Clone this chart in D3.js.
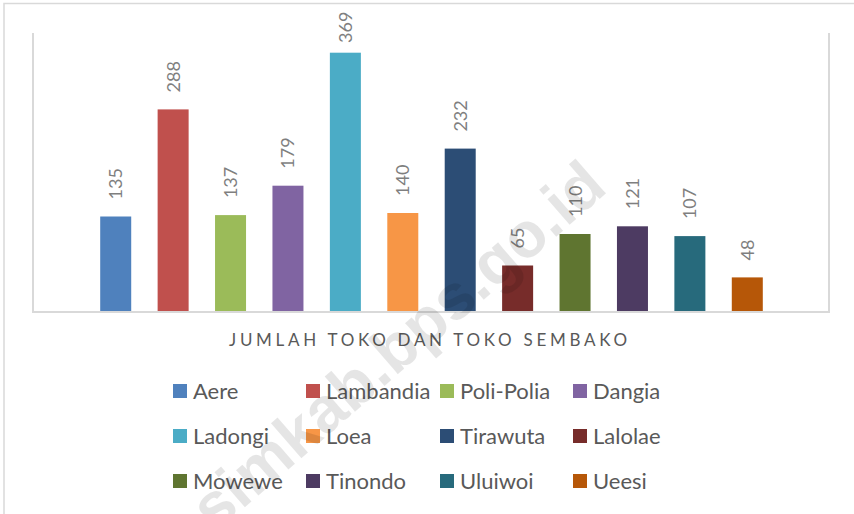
<!DOCTYPE html>
<html>
<head>
<meta charset="utf-8">
<script src="https://cdn.jsdelivr.net/npm/d3@7"></script>
<style>
  html, body { margin: 0; padding: 0; background: #fff; }
  svg { display: block; }
</style>
</head>
<body>
<script>
const [width, height] = [854, 514]

const categories = ["Aere", "Lambandia", "Poli-Polia", "Dangia", "Ladongi", "Loea",
  "Tirawuta", "Lalolae", "Mowewe", "Tinondo", "Uluiwoi", "Ueesi"]
const values = [135, 288, 137, 179, 369, 140, 232, 65, 110, 121, 107, 48]
const colors = ["#4f81bd", "#c0504d", "#9bbb59", "#8064a2", "#4bacc6", "#f79646",
  "#2c4d75", "#772c2a", "#5f7530", "#4d3b62", "#276a7c", "#b65708"]
const axisTitle = "JUMLAH TOKO DAN TOKO SEMBAKO"
const watermark = "simkab.bps.go.id"

const font = "Lato, 'Open Sans', sans-serif"

const svg = d3.select('body')
  .append('svg')
  .attr("width", width)
  .attr("height", height)

// outer chart border (only top/left visible)
svg.append("rect")
  .attr("x", 4).attr("y", 3.5)
  .attr("width", 900).attr("height", 600)
  .attr("fill", "none")
  .attr("stroke", "#d9d9d9")
  .attr("stroke-width", 1.5)

// scales
const x = d3.scaleBand()
  .domain(categories)
  .range([87, 776])
  .paddingInner(0.46)
  .paddingOuter(0.23)

const y = d3.scaleLinear()
  .domain([0, 400])
  .range([311, 31])

// plot frame: left, right, bottom
const frame = svg.append("g")
  .attr("stroke", "#d9d9d9")
  .attr("stroke-width", 2)
  .attr("fill", "none")
frame.append("line").attr("x1", 33).attr("x2", 33).attr("y1", 33).attr("y2", 312)
frame.append("line").attr("x1", 829).attr("x2", 829).attr("y1", 33).attr("y2", 312)
frame.append("line").attr("x1", 32).attr("x2", 830).attr("y1", 312).attr("y2", 312)

// bars
svg.selectAll("rect.bar")
  .data(values)
  .enter()
  .append("rect")
    .attr("class", "bar")
    .attr("x", (d, i) => x(categories[i]))
    .attr("y", d => y(d))
    .attr("width", x.bandwidth())
    .attr("height", d => y(0) - y(d))
    .attr("fill", (d, i) => colors[i])

// value labels, rotated
svg.selectAll("text.val")
  .data(values)
  .enter()
  .append("text")
    .attr("class", "val")
    .text(d => d)
    .attr("transform", (d, i) => {
      const cx = x(categories[i]) + x.bandwidth() / 2 + 6.5
      const ty = Math.max(y(d) - 17, 43)
      return `translate(${cx},${ty}) rotate(-90)`
    })
    .attr("font-family", font)
    .attr("font-size", "18px")
    .attr("fill", "#7f7f7f")

// axis title
const title = svg.append("text")
  .text(axisTitle)
  .attr("x", 229)
  .attr("y", 346)
  .attr("font-family", font)
  .attr("font-size", "17px")
  .attr("fill", "#595959")
const tl = title.node().getComputedTextLength()
title.attr("letter-spacing", (398 - tl) / (axisTitle.length - 1))

// legend
const colX = [173, 306, 440, 573]
const rowY = [391, 436, 481]
const legend = svg.selectAll("g.legend")
  .data(categories)
  .enter()
  .append("g")
    .attr("class", "legend")
    .attr("transform", (d, i) => `translate(${colX[i % 4]},${rowY[Math.floor(i / 4)]})`)
legend.append("rect")
  .attr("x", 0).attr("y", -7)
  .attr("width", 14).attr("height", 14)
  .attr("fill", (d, i) => colors[i])
legend.append("text")
  .text(d => d)
  .attr("x", 20)
  .attr("y", 8)
  .attr("font-family", font)
  .attr("font-size", "22px")
  .attr("fill", "#595959")

// watermark
svg.append("text")
  .text(watermark)
  .attr("transform", "translate(412,362) rotate(-41)")
  .attr("text-anchor", "middle")
  .attr("font-family", "'Liberation Sans', Arial, sans-serif")
  .attr("font-weight", "bold")
  .attr("font-size", "64px")
  .attr("fill", "#000")
  .attr("fill-opacity", 0.1)
</script>
</body>
</html>
